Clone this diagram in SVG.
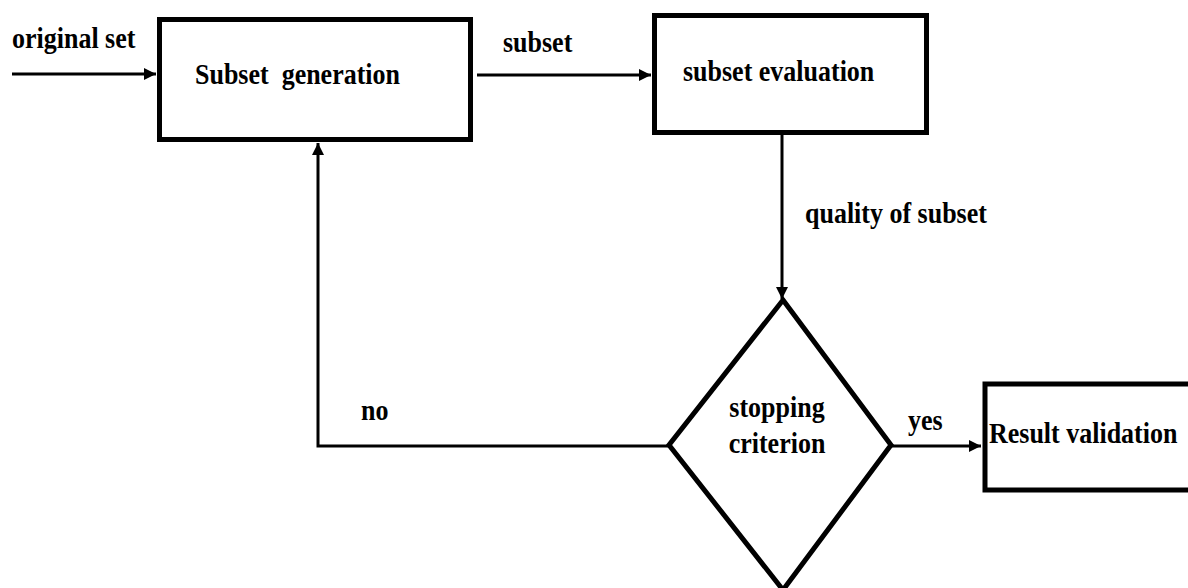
<svg xmlns="http://www.w3.org/2000/svg" width="1188" height="588" viewBox="0 0 1188 588">
  <style>
    .box { fill: #fff; stroke: #000; stroke-width: 5; }
    .lbl { font-family: "Liberation Serif", "Times New Roman", serif; font-weight: bold; font-size: 26px; fill: #000; }
    .conn { fill: none; stroke: #000; stroke-width: 3; }
  </style>
  <defs>
    <marker id="arr" markerUnits="userSpaceOnUse" markerWidth="13" markerHeight="13" refX="12" refY="6.5" orient="auto">
      <path d="M0,0.5 L12,6.5 L0,12.5 z" fill="#000"/>
    </marker>
  </defs>

  <g id="connectors">
    <line class="conn" x1="12" y1="74" x2="156" y2="74" marker-end="url(#arr)"/>
    <line class="conn" x1="477" y1="75" x2="651" y2="75" marker-end="url(#arr)"/>
    <line class="conn" x1="782" y1="135" x2="782" y2="299" marker-end="url(#arr)"/>
    <line class="conn" x1="891" y1="446" x2="981" y2="446" marker-end="url(#arr)"/>
    <polyline class="conn" points="669,446 318,446 318,143" marker-end="url(#arr)"/>
    <text class="lbl" transform="translate(12,48) scale(1,1.15)">original set</text>
    <text class="lbl" transform="translate(503,52) scale(1,1.15)">subset</text>
    <text class="lbl" transform="translate(805,223) scale(1,1.15)">quality of subset</text>
    <text class="lbl" transform="translate(908,430) scale(1,1.15)">yes</text>
    <text class="lbl" transform="translate(361,420) scale(1,1.15)">no</text>
  </g>

  <g id="subset-generation">
    <rect class="box" x="159.5" y="19.5" width="311" height="120"/>
    <text class="lbl" transform="translate(195,84) scale(1,1.15)" xml:space="preserve">Subset  generation</text>
  </g>

  <g id="subset-evaluation">
    <rect class="box" x="654.5" y="15.5" width="272" height="117"/>
    <text class="lbl" transform="translate(683,81) scale(1,1.15)">subset evaluation</text>
  </g>

  <g id="stopping-criterion">
    <polygon class="box" points="783,300 891,445 783,590 669,445" stroke-width="4.5"/>
    <text class="lbl" text-anchor="middle" transform="translate(777,417) scale(1,1.15)">stopping</text>
    <text class="lbl" text-anchor="middle" transform="translate(777,453) scale(1,1.15)">criterion</text>
  </g>

  <g id="result-validation">
    <rect class="box" x="985" y="384" width="220" height="106"/>
    <text class="lbl" transform="translate(989,443) scale(1,1.15)">Result validation</text>
  </g>
</svg>
